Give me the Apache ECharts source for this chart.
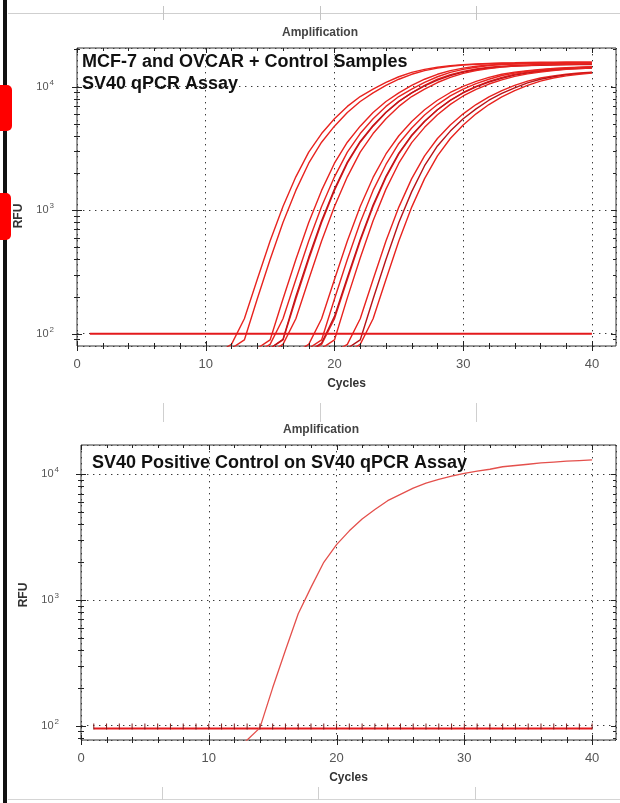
<!DOCTYPE html>
<html>
<head>
<meta charset="utf-8">
<title>Amplification</title>
<script src="https://cdn.jsdelivr.net/npm/echarts@6.0.0/dist/echarts.min.js"></script>
<style>
html, body { margin: 0; padding: 0; background: #fff; }
#chart { width: 620px; height: 803px; }
</style>
</head>
<body>
<div id="chart"></div>
<script>
const FONT = "'Liberation Sans', Arial, Helvetica, sans-serif";

// cycle numbers, tick values
const cycles = [1, 2, 3, 4, 5, 6, 7, 8, 9, 10, 11, 12, 13, 14, 15, 16, 17, 18, 19, 20,
  21, 22, 23, 24, 25, 26, 27, 28, 29, 30, 31, 32, 33, 34, 35, 36, 37, 38, 39, 40];
const xMajorTicks = [0, 10, 20, 30, 40];
const xMinorTicks = [2, 4, 6, 8, 12, 14, 16, 18, 22, 24, 26, 28, 32, 34, 36, 38];
const yMajorTicks = [100, 1000, 10000];
const yMinorTicks = [80, 90, 200, 300, 400, 500, 600, 700, 800, 900,
  2000, 3000, 4000, 5000, 6000, 7000, 8000, 9000, 20000];

// top panel: first cycle of each curve + RFU per cycle from there
const topStarts = [11, 12, 14, 14, 15, 15, 15, 17, 18, 18, 18, 19, 20, 21, 21];
const curveA1 = [71, 82, 132, 275, 562, 1072, 1862, 2951, 4169, 5495, 6918, 8318, 9550, 10839, 12023,
  13032, 13804, 14355, 14791, 15066, 15241, 15417, 15560, 15620, 15700, 15760, 15800, 15820, 15840, 15850];
const curveA2 = [76, 89, 191, 398, 794, 1445, 2399, 3548, 4786, 6166, 7586, 8913, 10233, 11482, 12589,
  13490, 14125, 14622, 14962, 15136, 15311, 15400, 15460, 15510, 15550, 15580, 15600, 15610, 15620];
const curveB1 = [76, 89, 191, 398, 794, 1445, 2399, 3548, 4786, 6166, 7586, 8913, 10233, 11482, 12589,
  13490, 14125, 14622, 14962, 15136, 15311, 15400, 15450, 15480, 15500, 15510, 15520];
const curveB2 = [71, 82, 132, 275, 562, 1072, 1862, 2951, 4169, 5495, 6918, 8318, 9550, 10839, 12023,
  13032, 13804, 14355, 14791, 15066, 15241, 15350, 15420, 15460, 15480, 15500, 15510];
const curveB3 = [76, 89, 191, 398, 794, 1445, 2399, 3548, 4786, 6166, 7586, 8913, 10233, 11482, 12500,
  13300, 13900, 14350, 14650, 14850, 15000, 15100, 15180, 15240, 15280, 15300];
const curveB4 = [76, 90, 200, 415, 820, 1480, 2450, 3600, 4850, 6200, 7600, 8900, 10150, 11300, 12300,
  13100, 13700, 14150, 14450, 14650, 14800, 14900, 14980, 15040, 15080, 15100];
const curveB5 = [71, 82, 132, 275, 562, 1072, 1862, 2951, 4169, 5495, 6918, 8318, 9550, 10800, 11900,
  12800, 13500, 14000, 14400, 14650, 14850, 15000, 15100, 15180, 15240, 15280];
const curveC1 = [71, 82, 132, 275, 562, 1072, 1841, 2851, 4004, 5218, 6494, 7762, 8967, 10058, 11028,
  11885, 12589, 13111, 13490, 13804, 14044, 14207, 14371, 14521];
const curveC2 = [76, 89, 191, 398, 794, 1445, 2344, 3467, 4624, 5888, 7161, 8414, 9550, 10593, 11482,
  12303, 12882, 13335, 13646, 13964, 14125, 14289, 14454];
const curveC3 = [71, 82, 132, 275, 562, 1072, 1841, 2851, 4004, 5218, 6494, 7762, 8967, 10058, 11028,
  11885, 12589, 13111, 13490, 13804, 14044, 14207, 14371];
const curveC4 = [72, 84, 138, 285, 580, 1100, 1880, 2900, 4050, 5250, 6500, 7750, 8900, 9950, 10900,
  11700, 12400, 12900, 13300, 13600, 13850, 14000, 14150];
const curveC5 = [76, 89, 195, 410, 820, 1480, 2400, 3520, 4680, 5920, 7180, 8400, 9500, 10500, 11350,
  12100, 12700, 13150, 13500, 13800, 14000, 14150];
const curveE1 = [71, 82, 132, 275, 562, 1059, 1799, 2754, 3802, 4898, 6026, 7161, 8270, 9279, 10233,
  11092, 11749, 12232, 12589, 12882, 13111];
const curveE2 = [76, 89, 191, 398, 794, 1413, 2291, 3311, 4365, 5495, 6607, 7762, 8810, 9772, 10715,
  11482, 12023, 12445, 12735, 13032];
const curveE3 = [71, 82, 132, 275, 562, 1059, 1799, 2754, 3802, 4898, 6026, 7161, 8270, 9279, 10233,
  11092, 11749, 12232, 12589, 12882];
const topCurves = [curveA1, curveA2, curveB1, curveB2, curveB3, curveB4, curveB5,
  curveC1, curveC2, curveC3, curveC4, curveC5, curveE1, curveE2, curveE3];
const topColors = ['#e8231f', '#e8231f', '#e8231f', '#e8231f', '#e8231f', '#c0141a', '#e8231f',
  '#e8231f', '#e8231f', '#e8231f', '#c0141a', '#e8231f', '#e8231f', '#b81318', '#e8231f'];
const topBaseline = 100;

// bottom panel: positive control
const controlStart = 12;
const controlCurve = [60, 77, 96, 200, 398, 776, 1259, 1995, 2754, 3548, 4416, 5248, 6166, 6918, 7762,
  8511, 9120, 9661, 10186, 10593, 10965, 11482, 11749, 12023, 12303, 12503, 12706, 12853, 13002];
const bottomBaseline = 95;

const X_MAX = 41.87;
const TOP_Y = [79.5, 20550];
const BOT_Y = [76.9, 17100];

function toPoints(start, values) {
  return values.map((v, i) => [start + i, v]);
}

function tickData(yRange) {
  const d = [];
  xMajorTicks.forEach(v => d.push([v, yRange[0], 0]));
  xMinorTicks.forEach(v => d.push([v, yRange[0], 1]));
  yMajorTicks.forEach(v => d.push([0, v, 2]));
  yMinorTicks.filter(v => v > yRange[0] * 1.02 && v < yRange[1] * 0.98)
    .forEach(v => d.push([0, v, 3]));
  return d;
}

// MATLAB style box ticks: crossing on left/bottom, inside on top/right
function renderTick(params, api) {
  const cs = params.coordSys;
  const kind = api.value(2);
  const p = api.coord([api.value(0), api.value(1)]);
  const left = cs.x, right = cs.x + cs.width, top = cs.y, bottom = cs.y + cs.height;
  const style = { stroke: '#222', lineWidth: 1 };
  let segs;
  if (kind < 2) {
    const x = Math.round(p[0]) + 0.5;
    const L = kind === 0 ? 5 : 3;
    segs = [[x, bottom - L, x, bottom + L], [x, top, x, top + L]];
  } else {
    const y = Math.round(p[1]) + 0.5;
    const L = kind === 2 ? 5 : 3;
    segs = [[left - L, y, left + L, y], [right - L, y, right, y]];
  }
  return {
    type: 'group',
    children: segs.map(s => ({
      type: 'line',
      shape: { x1: s[0], y1: s[1], x2: s[2], y2: s[3] },
      style: style
    }))
  };
}

function logLabel(v) {
  const e = Math.round(Math.log10(v));
  if (Math.abs(v - Math.pow(10, e)) > 1e-6 * v) return '';
  return '{b|10}{s|' + e + '}';
}

const dotted = { color: '#3a3a3a', width: 1, type: [1.4, 4.6] };

function xAxisFor(gridIndex) {
  return {
    type: 'value', gridIndex: gridIndex, min: 0, max: X_MAX, interval: 10,
    axisLine: { show: false }, axisTick: { show: false },
    splitLine: { show: true, lineStyle: dotted },
    axisLabel: {
      color: '#555', fontSize: 13, fontFamily: FONT, margin: 12,
      showMaxLabel: false,
      formatter: v => (v % 10 === 0 ? String(v) : '')
    },
    name: 'Cycles', nameLocation: 'middle', nameGap: 32,
    nameTextStyle: { color: '#333', fontSize: 12, fontWeight: 'bold', fontFamily: FONT }
  };
}

function yAxisFor(gridIndex, range, margin) {
  return {
    type: 'log', logBase: 10, gridIndex: gridIndex, min: range[0], max: range[1],
    axisLine: { show: false }, axisTick: { show: false },
    splitLine: { show: true, lineStyle: dotted },
    axisLabel: {
      margin: margin, showMinLabel: false, showMaxLabel: false,
      formatter: logLabel,
      rich: {
        b: { fontSize: 11, color: '#555', fontFamily: FONT },
        s: { fontSize: 8, color: '#555', fontFamily: FONT, padding: [0, 0, 8, 1] }
      }
    }
  };
}

const series = [];
topCurves.forEach((vals, i) => {
  series.push({
    type: 'line', xAxisIndex: 0, yAxisIndex: 0,
    data: toPoints(topStarts[i], vals),
    showSymbol: false, clip: true, silent: true,
    lineStyle: { color: topColors[i], width: 1.4 }
  });
});
series.push({
  type: 'line', xAxisIndex: 0, yAxisIndex: 0,
  data: cycles.map(c => [c, topBaseline]),
  showSymbol: false, silent: true,
  lineStyle: { color: '#e31a1c', width: 2 }
});
series.push({
  type: 'line', xAxisIndex: 1, yAxisIndex: 1,
  data: cycles.map(c => [c, bottomBaseline]),
  symbol: 'rect', symbolSize: [1, 6], symbolOffset: [0, -2], showSymbol: true, silent: true,
  itemStyle: { color: '#7a1a1a' },
  lineStyle: { color: '#e31a1c', width: 2 }
});
series.push({
  type: 'line', xAxisIndex: 1, yAxisIndex: 1,
  data: toPoints(controlStart, controlCurve),
  showSymbol: false, clip: true, silent: true,
  lineStyle: { color: '#e4504c', width: 1.3 }
});
series.push({
  type: 'custom', xAxisIndex: 0, yAxisIndex: 0, renderItem: renderTick,
  data: tickData(TOP_Y), silent: true, z: 5
});
series.push({
  type: 'custom', xAxisIndex: 1, yAxisIndex: 1, renderItem: renderTick,
  data: tickData(BOT_Y), silent: true, z: 5
});

const textStyleBig = { font: 'bold 18px ' + FONT, fill: '#111' };

const option = {
  animation: false,
  backgroundColor: '#fff',
  grid: [
    { left: 77, top: 48, width: 539, height: 298, show: true, borderColor: '#333', borderWidth: 1 },
    { left: 81, top: 445, width: 535, height: 295, show: true, borderColor: '#333', borderWidth: 1 }
  ],
  xAxis: [xAxisFor(0), xAxisFor(1)],
  yAxis: [yAxisFor(0, TOP_Y, 23), yAxisFor(1, BOT_Y, 22)],
  series: series,
  graphic: [
    // page furniture around the two screenshots
    { type: 'rect', shape: { x: 3, y: 0, width: 4, height: 803 }, style: { fill: '#111' }, silent: true },
    { type: 'rect', shape: { x: -8, y: 85, width: 20, height: 46, r: 5 }, style: { fill: '#ff0000' }, silent: true },
    { type: 'rect', shape: { x: -8, y: 193, width: 19, height: 47, r: 5 }, style: { fill: '#ff0000' }, silent: true },
    { type: 'line', shape: { x1: 8, y1: 13.5, x2: 620, y2: 13.5 }, style: { stroke: '#cfcfcf' }, silent: true },
    { type: 'line', shape: { x1: 8, y1: 799.5, x2: 620, y2: 799.5 }, style: { stroke: '#d5d5d5' }, silent: true },
    ...[163.5, 320.5, 476.5].map(x => ({ type: 'line', shape: { x1: x, y1: 6, x2: x, y2: 20 }, style: { stroke: '#c4c4c4' }, silent: true })),
    ...[163.5, 320.5, 476.5].map(x => ({ type: 'line', shape: { x1: x, y1: 403, x2: x, y2: 422 }, style: { stroke: '#cfcfcf' }, silent: true })),
    ...[162.5, 318.5, 475.5].map(x => ({ type: 'line', shape: { x1: x, y1: 787, x2: x, y2: 800 }, style: { stroke: '#cfcfcf' }, silent: true })),
    // titles
    { type: 'text', x: 320, y: 33, silent: true,
      style: { text: 'Amplification', font: 'bold 12px ' + FONT, fill: '#444', align: 'center', verticalAlign: 'middle' } },
    { type: 'text', x: 321, y: 430, silent: true,
      style: { text: 'Amplification', font: 'bold 12px ' + FONT, fill: '#444', align: 'center', verticalAlign: 'middle' } },
    { type: 'text', x: 82, y: 62, silent: true, z: 10,
      style: Object.assign({ text: 'MCF-7 and OVCAR + Control Samples', verticalAlign: 'middle' }, textStyleBig) },
    { type: 'text', x: 82, y: 84, silent: true, z: 10,
      style: Object.assign({ text: 'SV40 qPCR Assay', verticalAlign: 'middle' }, textStyleBig) },
    { type: 'text', x: 92, y: 463, silent: true, z: 10,
      style: Object.assign({ text: 'SV40 Positive Control on SV40 qPCR Assay', verticalAlign: 'middle' }, textStyleBig) },
    { type: 'text', x: 19, y: 216, rotation: Math.PI / 2, silent: true,
      style: { text: 'RFU', font: 'bold 12px ' + FONT, fill: '#333', align: 'center', verticalAlign: 'middle' } },
    { type: 'text', x: 24, y: 595, rotation: Math.PI / 2, silent: true,
      style: { text: 'RFU', font: 'bold 12px ' + FONT, fill: '#333', align: 'center', verticalAlign: 'middle' } }
  ]
};

const chart = echarts.init(document.getElementById('chart'));
chart.setOption(option);
</script>
</body>
</html>
